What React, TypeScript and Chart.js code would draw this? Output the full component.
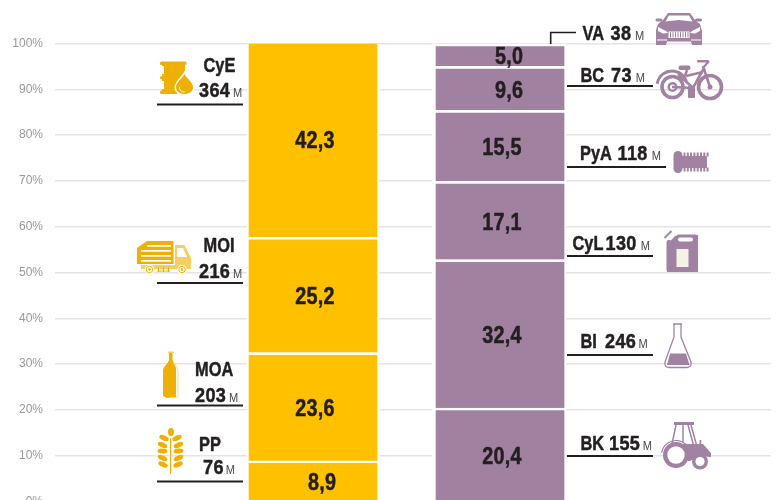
import React, { useEffect, useRef } from "react";
import { Chart, registerables } from "chart.js";

Chart.register(...registerables);

// Data (bottom of each column first)
const sourceNames = ["PP", "MOA", "MOI", "CyE"];
const sourceShares = [8.9, 23.6, 25.2, 42.3];
const sourceTons = [76, 203, 216, 364];
const useNames = ["BK", "BI", "CyL", "PyA", "BC", "VA"];
const useShares = [20.4, 32.4, 17.1, 15.5, 9.6, 5.0];
const useTons = [155, 246, 130, 118, 73, 38];
const unit = "M";

const YELLOW = "#ffc000";
const PURPLE = "#a081a0";
const GOLD = "#eeb004";
const GOLD_LIGHT = "#f6cf60";
const ICON_PURPLE = "#a282a2";
const INK = "#231f20";
const SANS = '"Liberation Sans", Arial, sans-serif';

const sourceLayout = [
  { nameX: 199, nameY: 451, numX: 203, numY: 474, mX: 225.7, lineY: 481.5, x0: 157, x1: 243 },
  { nameX: 195, nameY: 376, numX: 195, numY: 401.5, mX: 229, lineY: 405.5, x0: 157, x1: 243 },
  { nameX: 203.5, nameY: 252, numX: 199, numY: 278, mX: 233, lineY: 283, x0: 157, x1: 243 },
  { nameX: 203.5, nameY: 71.5, numX: 199, numY: 96.5, mX: 233, lineY: 104.5, x0: 157, x1: 243 },
];
const useLayout = [
  { nameX: 580.5, nameY: 450, numX: 609, numY: 450, mX: 642.7, lineY: 456, x0: 567, x1: 653 },
  { nameX: 580.5, nameY: 347.5, numX: 605, numY: 347.5, mX: 638.5, lineY: 355, x0: 567, x1: 653 },
  { nameX: 572.5, nameY: 250, numX: 605.5, numY: 250, mX: 640.7, lineY: 256, x0: 567, x1: 653 },
  { nameX: 580, nameY: 160, numX: 617.5, numY: 160, mX: 651.7, lineY: 167, x0: 567, x1: 666 },
  { nameX: 580.5, nameY: 81.5, numX: 611, numY: 81.5, mX: 635.7, lineY: 86, x0: 567, x1: 653 },
  { nameX: 582.5, nameY: 40, numX: 610.5, numY: 40, mX: 635, lineY: null, x0: 0, x1: 0 },
];

function narrowText(ctx: any, text: string, x: number, y: number, font: string, sx: number, spacing: number, bold = true) {
  ctx.save();
  ctx.translate(x, y);
  ctx.scale(sx, 1);
  ctx.font = font;
  ctx.letterSpacing = `${spacing}px`;
  ctx.fillText(text, 0, 0);
  if (bold) {
    ctx.strokeStyle = ctx.fillStyle;
    ctx.lineWidth = 0.5;
    ctx.lineJoin = "round";
    ctx.strokeText(text, 0, 0);
  }
  ctx.restore();
}

function poly(ctx: any, pts: number[][], fill?: string) {
  ctx.beginPath();
  pts.forEach((p, i) => (i ? ctx.lineTo(p[0], p[1]) : ctx.moveTo(p[0], p[1])));
  ctx.closePath();
  if (fill) {
    ctx.fillStyle = fill;
    ctx.fill();
  }
}
function disc(ctx: any, x: number, y: number, r: number, fill: string) {
  ctx.beginPath();
  ctx.arc(x, y, r, 0, Math.PI * 2);
  ctx.fillStyle = fill;
  ctx.fill();
}
function rect(ctx: any, x: number, y: number, w: number, h: number, fill: string, r = 0) {
  ctx.beginPath();
  ctx.roundRect(x, y, w, h, r);
  ctx.fillStyle = fill;
  ctx.fill();
}
function grain(ctx: any, x: number, y: number, rx: number, ry: number, rot: number, fill: string) {
  ctx.beginPath();
  ctx.ellipse(x, y, rx, ry, rot, 0, Math.PI * 2);
  ctx.fillStyle = fill;
  ctx.fill();
}

function drawBarrel(ctx: any) {
  rect(ctx, 160, 61.5, 26.5, 3.5, GOLD, 1.5);
  rect(ctx, 162, 64, 23, 30, GOLD);
  rect(ctx, 160, 76, 6, 3.2, GOLD, 1.5);
  rect(ctx, 160, 90.5, 26, 3.5, GOLD, 1.5);
  rect(ctx, 161.5, 66, 2.5, 8, "#fff");
  rect(ctx, 161.5, 81, 2.5, 8, "#fff");
  ctx.beginPath();
  ctx.moveTo(184.5, 74);
  ctx.bezierCurveTo(182, 79, 176, 82, 176, 87.5);
  ctx.bezierCurveTo(176, 91.5, 180, 94, 184.5, 94);
  ctx.bezierCurveTo(189, 94, 193, 91.5, 193, 87.5);
  ctx.bezierCurveTo(193, 82, 187, 79, 184.5, 74);
  ctx.closePath();
  ctx.strokeStyle = "#fff";
  ctx.lineWidth = 3;
  ctx.stroke();
  ctx.fillStyle = GOLD;
  ctx.fill();
  ctx.lineWidth = 1;
  ctx.beginPath();
  ctx.arc(184, 87.5, 4.5, Math.PI * 0.45, Math.PI * 1.05);
  ctx.stroke();
}
function drawTruck(ctx: any) {
  poly(ctx, [[137, 248], [147, 241], [173.5, 241], [173.5, 264], [137, 264]], GOLD);
  ctx.fillStyle = "#fff";
  [245, 250, 255, 260].forEach((y, i) => ctx.fillRect(i === 0 ? 147 : 141, y, i === 0 ? 24 : 30, 1.7));
  poly(ctx, [[175, 245], [184.5, 245], [191, 258], [191, 268], [175, 268]], GOLD_LIGHT);
  poly(ctx, [[177, 248], [183, 248], [187, 257], [177, 257]], "#fff");
  rect(ctx, 141, 265, 50, 4, GOLD_LIGHT);
  [149.5, 182].forEach((x) => {
    disc(ctx, x, 269.5, 4.5, "#fff");
    ctx.strokeStyle = GOLD;
    ctx.lineWidth = 1;
    ctx.beginPath();
    ctx.arc(x, 269.5, 3.2, 0, Math.PI * 2);
    ctx.stroke();
    disc(ctx, x, 269.5, 1.3, GOLD);
  });
  ctx.fillStyle = GOLD;
  [158, 163, 168].forEach((x) => ctx.fillRect(x, 267, 1, 5));
  ctx.fillRect(157, 270.5, 13, 1);
}
function drawBottle(ctx: any) {
  rect(ctx, 168, 351.5, 6, 1.5, GOLD_LIGHT);
  rect(ctx, 169, 353, 3.5, 9, GOLD);
  ctx.beginPath();
  ctx.moveTo(169, 360);
  ctx.bezierCurveTo(168, 364, 163, 366, 163, 371);
  ctx.lineTo(163, 396);
  ctx.lineTo(167, 398);
  ctx.lineTo(176, 397);
  ctx.lineTo(176, 368);
  ctx.lineTo(172.5, 360);
  ctx.closePath();
  ctx.fillStyle = GOLD;
  ctx.fill();
  ctx.strokeStyle = "#f8dc88";
  ctx.lineWidth = 1;
  ctx.beginPath();
  ctx.moveTo(173, 361);
  ctx.bezierCurveTo(174, 365, 178, 366, 178, 371);
  ctx.lineTo(178, 397);
  ctx.lineTo(172, 398);
  ctx.stroke();
}
function drawWheat(ctx: any) {
  ctx.fillStyle = GOLD;
  ctx.fillRect(170, 438, 1.2, 36);
  grain(ctx, 171, 432, 3, 4, 0, GOLD);
  [438, 445, 451, 458, 464.5].forEach((y, i) => {
    const dx = i === 0 ? 6.5 : i === 4 ? 7.5 : 8;
    const rot = i === 2 ? 0.05 : 0.42;
    grain(ctx, 170.5 - dx, y, 5, 2.5, rot, GOLD);
    grain(ctx, 170.5 + dx, y, 5, 2.5, -rot, GOLD);
  });
}
function drawCar(ctx: any) {
  const c = ICON_PURPLE;
  poly(ctx, [[663, 20], [668, 13], [690, 13], [695, 20], [700, 24], [702, 31], [702, 45], [692, 45], [691, 41.5], [667, 41.5], [666, 45], [656, 45], [656, 30], [658, 24]], c);
  rect(ctx, 655.5, 18.5, 7, 3, c, 1.5);
  rect(ctx, 695, 18.5, 7, 3, c, 1.5);
  poly(ctx, [[665.5, 21.5], [669, 15.5], [689, 15.5], [692.5, 21.5], [679, 20]], "#fff");
  poly(ctx, [[658, 27], [666, 31], [668, 33], [663, 33.5], [658, 31]], "#fff");
  poly(ctx, [[700, 27], [692, 31], [690, 33], [695, 33.5], [700, 31]], "#fff");
  rect(ctx, 668.5, 31.5, 21, 6.5, "#fff");
  ctx.fillStyle = c;
  for (let x = 670; x < 689; x += 2.5) ctx.fillRect(x, 32, 1, 5.5);
  ctx.fillStyle = "#fff";
  ctx.fillRect(657, 39.5, 10, 1);
  ctx.fillRect(691, 39.5, 10, 1);
}
function drawBike(ctx: any) {
  const c = ICON_PURPLE;
  ctx.strokeStyle = c;
  ctx.lineWidth = 3.6;
  ctx.beginPath();
  ctx.arc(672.5, 87, 10.5, 0, Math.PI * 2);
  ctx.stroke();
  ctx.beginPath();
  ctx.arc(710, 87, 11.5, 0, Math.PI * 2);
  ctx.stroke();
  ctx.lineWidth = 3;
  ctx.beginPath();
  ctx.arc(672, 86, 15, Math.PI * 1.05, Math.PI * 1.9);
  ctx.stroke();
  disc(ctx, 672.5, 87, 5, c);
  disc(ctx, 672.5, 87, 2.5, "#fff");
  disc(ctx, 710, 87, 2.5, c);
  ctx.lineWidth = 2.6;
  ctx.beginPath();
  ctx.moveTo(672, 87);
  ctx.lineTo(693, 88);
  ctx.lineTo(704, 68);
  ctx.moveTo(686, 76);
  ctx.lineTo(703, 72);
  ctx.moveTo(703, 66);
  ctx.lineTo(710, 87);
  ctx.moveTo(678, 74);
  ctx.lineTo(693, 88);
  ctx.moveTo(687, 70);
  ctx.lineTo(685, 76);
  ctx.stroke();
  rect(ctx, 678.5, 65.5, 12, 4.5, c, 2);
  rect(ctx, 697, 60, 12, 2.5, c, 1);
  ctx.lineWidth = 2;
  ctx.beginPath();
  ctx.moveTo(709, 61);
  ctx.lineTo(703, 68);
  ctx.stroke();
  rect(ctx, 688, 86, 7, 12, c, 1);
}
function drawBolt(ctx: any) {
  const c = ICON_PURPLE;
  rect(ctx, 673.5, 151, 9, 22, c, 4.5);
  rect(ctx, 680, 156, 27, 12, c, 1);
  ctx.fillStyle = c;
  for (let x = 683.5; x < 707; x += 3.3) {
    ctx.fillRect(x, 152.5, 2, 4);
    ctx.fillRect(x, 167.5, 2, 4);
  }
}
function drawCan(ctx: any) {
  const c = ICON_PURPLE;
  ctx.strokeStyle = c;
  ctx.lineWidth = 2;
  ctx.beginPath();
  ctx.moveTo(664.5, 238);
  ctx.lineTo(671.5, 231);
  ctx.stroke();
  poly(ctx, [[667, 245], [675, 236], [698, 235], [698, 272], [667, 272]], c);
  rect(ctx, 666.5, 240, 5, 32, c, 2);
  rect(ctx, 676, 234.5, 22, 37.5, c, 3);
  rect(ctx, 678, 237.5, 15, 4, "#fff", 2);
  rect(ctx, 676.5, 249, 12, 18, "#f3f2e6");
}
function drawFlask(ctx: any) {
  const c = ICON_PURPLE;
  ctx.strokeStyle = c;
  ctx.lineWidth = 1.3;
  ctx.beginPath();
  ctx.moveTo(673, 324);
  ctx.lineTo(682, 324);
  ctx.moveTo(674, 324);
  ctx.lineTo(674, 337);
  ctx.lineTo(665, 362);
  ctx.quadraticCurveTo(664, 367, 669, 367.5);
  ctx.lineTo(687, 367.5);
  ctx.quadraticCurveTo(692, 367, 691, 362);
  ctx.lineTo(681, 337);
  ctx.lineTo(681, 324);
  ctx.stroke();
  poly(ctx, [[670, 353.5], [686, 353.5], [689.5, 365], [667, 365]], c);
}
function drawTractor(ctx: any) {
  const c = ICON_PURPLE;
  ctx.strokeStyle = c;
  ctx.lineWidth = 1.5;
  rect(ctx, 674, 422, 20, 3, c);
  ctx.beginPath();
  ctx.moveTo(676, 425);
  ctx.lineTo(672, 444);
  ctx.moveTo(683, 425);
  ctx.lineTo(683, 443);
  ctx.moveTo(691, 425);
  ctx.lineTo(697, 447);
  ctx.moveTo(688, 425);
  ctx.lineTo(694, 447);
  ctx.stroke();
  poly(ctx, [[683, 444], [703, 444], [711, 453], [711, 457], [700, 456], [690, 461], [688, 461]], c);
  rect(ctx, 699.5, 440, 1.8, 6, c);
  ctx.lineWidth = 1.2;
  ctx.beginPath();
  ctx.arc(676, 455, 14.5, Math.PI * 1.05, Math.PI * 1.75);
  ctx.stroke();
  disc(ctx, 676, 455, 13, c);
  disc(ctx, 676, 455, 8.7, "#fff");
  disc(ctx, 700, 461.5, 8, c);
  disc(ctx, 700, 461.5, 4.6, "#fff");
}

const iconPlugin = {
  id: "icons",
  afterDraw(chart: any) {
    const ctx = chart.ctx;
    ctx.save();
    [drawBarrel, drawTruck, drawBottle, drawWheat, drawCar, drawBike, drawBolt, drawCan, drawFlask, drawTractor].forEach((d) => d(ctx));
    ctx.restore();
  },
};

const labelPlugin = {
  id: "labels",
  afterDatasetsDraw(chart: any) {
    const ctx = chart.ctx;
    ctx.save();
    ctx.textBaseline = "middle";
    ctx.textAlign = "center";
    ctx.fillStyle = INK;
    chart.data.datasets.forEach((ds: any, i: number) => {
      const bar = chart.getDatasetMeta(i).data[0];
      const v = ds.data[0].y;
      const dx = (v < 10 ? 9 : 2) + (ds.data[0].x === 2 ? 1 : 0);
      const top = bar.y + (ds.borderWidth.top || 0);
      narrowText(ctx, v.toFixed(1).replace(".", ","), bar.x + dx, (top + bar.base) / 2 + 1.5, `bold 23px ${SANS}`, 0.86, 0.3);
    });

    ctx.textAlign = "left";
    ctx.textBaseline = "alphabetic";
    const entry = (name: string, tons: number, l: any) => {
      ctx.fillStyle = INK;
      narrowText(ctx, name, l.nameX, l.nameY, `bold 21px ${SANS}`, 0.78, 0);
      narrowText(ctx, String(tons), l.numX, l.numY, `bold 21px ${SANS}`, 0.86, 0.4);
      ctx.fillStyle = "#4a4a4a";
      narrowText(ctx, unit, l.mX, l.numY, `13px ${SANS}`, 0.85, 0, false);
      if (l.lineY !== null) {
        ctx.strokeStyle = INK;
        ctx.lineWidth = 2;
        ctx.beginPath();
        ctx.moveTo(l.x0, l.lineY);
        ctx.lineTo(l.x1, l.lineY);
        ctx.stroke();
      }
    };
    sourceNames.forEach((n, i) => entry(n, sourceTons[i], sourceLayout[i]));
    useNames.forEach((n, i) => entry(n, useTons[i], useLayout[i]));

    ctx.strokeStyle = INK;
    ctx.lineWidth = 1.6;
    ctx.beginPath();
    ctx.moveTo(550.7, 44);
    ctx.lineTo(550.7, 32.5);
    ctx.lineTo(576, 32.5);
    ctx.stroke();
    ctx.restore();
  },
};

const makeColumn = (shares: number[], x: number, color: string, thickness: number, leftGap: number, topGap: number) =>
  shares.map((y, i) => ({
    data: [{ x, y }],
    backgroundColor: color,
    borderColor: "#fff",
    barThickness: thickness,
    borderSkipped: false,
    borderWidth: {
      top: i === shares.length - 1 ? topGap : 2.6,
      left: leftGap,
      right: 2,
      bottom: 0,
    },
  }));

export default function App() {
  const ref = useRef<HTMLCanvasElement>(null);
  useEffect(() => {
    const chart = new Chart(ref.current as any, {
      type: "bar",
      data: {
        datasets: [
          ...makeColumn(sourceShares, 1, YELLOW, 132, 2, 0),
          ...makeColumn(useShares, 2, PURPLE, 134, 4, 3),
        ] as any,
      },
      plugins: [labelPlugin, iconPlugin],
      options: {
        responsive: false,
        animation: false,
        layout: { padding: { top: 43.5, bottom: 58.5, right: 5, left: 0 } },
        plugins: { legend: { display: false }, tooltip: { enabled: false } },
        scales: {
          x: { type: "linear", display: false, stacked: true, offset: false, min: -0.387, max: 3.462 },
          y: {
            stacked: true,
            min: 0,
            max: 100,
            afterFit: (s: any) => {
              s.width = 55;
            },
            ticks: {
              stepSize: 10,
              padding: 12,
              color: "#999999",
              font: { family: SANS, size: 12 },
              callback: (v: any) => `${v}%`,
            },
            grid: { color: "#e4e4e4", lineWidth: 1.4, drawTicks: false },
            border: { display: false },
          },
        },
      } as any,
    });
    return () => chart.destroy();
  }, []);
  return (
    <div style={{ position: "fixed", left: 0, top: 0, width: 776, height: 500, overflow: "hidden", background: "#fff" }}>
      <canvas ref={ref} width={776} height={560} style={{ display: "block" }} />
    </div>
  );
}
